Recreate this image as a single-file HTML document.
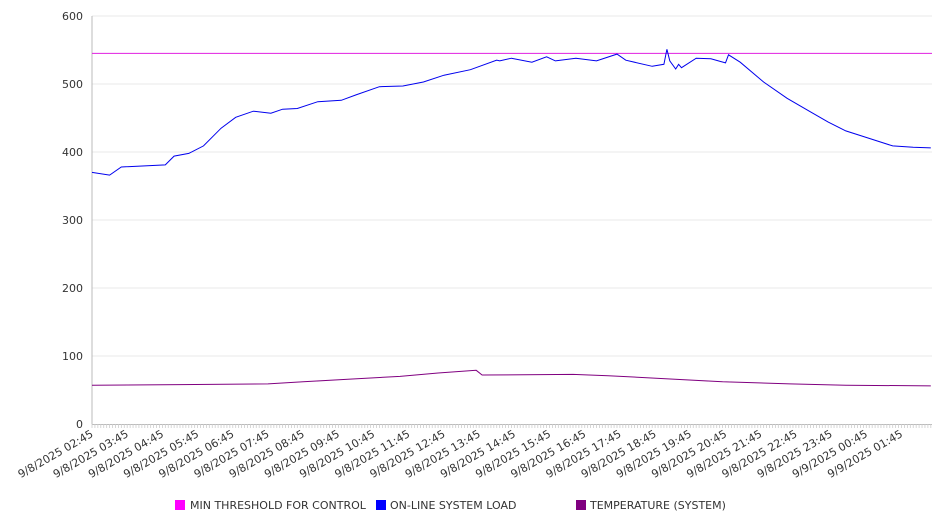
<!DOCTYPE html>
<html><head><meta charset="utf-8"><style>
body{margin:0;background:#fff;}
svg{display:block;font-family:"DejaVu Sans","Liberation Sans",sans-serif;}
</style></head><body>
<svg id="chart" width="946" height="526" viewBox="0 0 946 526" xmlns="http://www.w3.org/2000/svg">
<g id="grid"></g>
<g id="yaxis"></g>
<g id="xaxis"></g>
<g id="series"></g>
<g id="legend">
<g><rect x="175" y="500" width="10" height="10" fill="#ff00ff"/><text x="190" y="509" font-size="11" fill="#333">MIN THRESHOLD FOR CONTROL</text></g>
<g><rect x="376" y="500" width="10" height="10" fill="#0000ff"/><text x="390" y="509" font-size="11" fill="#333">ON-LINE SYSTEM LOAD</text></g>
<g><rect x="576" y="500" width="10" height="10" fill="#800080"/><text x="590" y="509" font-size="11" fill="#333">TEMPERATURE (SYSTEM)</text></g>
</g>
</svg>
<script>
const yTicks=[0,100,200,300,400,500,600];
const xLabels=["9/8/2025 02:45","9/8/2025 03:45","9/8/2025 04:45","9/8/2025 05:45","9/8/2025 06:45","9/8/2025 07:45","9/8/2025 08:45","9/8/2025 09:45","9/8/2025 10:45","9/8/2025 11:45","9/8/2025 12:45","9/8/2025 13:45","9/8/2025 14:45","9/8/2025 15:45","9/8/2025 16:45","9/8/2025 17:45","9/8/2025 18:45","9/8/2025 19:45","9/8/2025 20:45","9/8/2025 21:45","9/8/2025 22:45","9/8/2025 23:45","9/9/2025 00:45","9/9/2025 01:45"];
const loadMinutes=[0,30,50,125,140,165,190,220,245,275,305,325,350,385,425,450,490,530,565,600,645,690,695,715,750,775,790,825,860,895,910,955,975,980,985,995,1000,1005,1030,1055,1080,1085,1105,1145,1185,1225,1255,1285,1325,1365,1400,1430];
const loadValues=[370,366,378,381,394,398,409,435,451,460,457,463,464,474,476,484,496,497,503,513,521,535,534,538,532,540,534,538,534,544,535,526,529,551,534,522,529,524,538,537,531,543,532,503,479,459,444,431,420,409,407,406];
const tempMinutes=[0,150,300,360,440,525,590,655,665,820,880,990,1075,1190,1285,1430];
const tempValues=[57,58,59,62,66,70,75,79,72,73,71,66,62,59,57,56];
const thresholdValue=545;
const totalMinutes=1432;

const X0=92,X1=932,Y0=424,Y1=16;
const NS="http://www.w3.org/2000/svg";
function xs(m){return X0+(m/totalMinutes)*(X1-X0);}
function ys(v){return Y0-(v/600)*(Y0-Y1);}
function mk(t,a,p){const e=document.createElementNS(NS,t);for(const k in a)e.setAttribute(k,a[k]);p.appendChild(e);return e;}
const grid=document.getElementById('grid'),yax=document.getElementById('yaxis'),xax=document.getElementById('xaxis'),ser=document.getElementById('series');
yTicks.forEach(v=>{
  if(v>0){const g=mk('line',{x1:X0,x2:X1,y1:ys(v),y2:ys(v),stroke:'#e8e8e8','stroke-width':1},grid);
  
  }
  const t=mk('text',{x:83,y:ys(v)+4,'text-anchor':'end','font-size':11,fill:'#333'},yax);
  t.textContent=v;
  
  
});
mk('line',{x1:X0,x2:X0,y1:Y1,y2:Y0,stroke:'#bbb'},yax);
mk('line',{x1:X0,x2:X1,y1:Y0+0.5,y2:Y0+0.5,stroke:'#bbb'},xax);
for(let m=0;m<=totalMinutes;m+=5){mk('line',{x1:xs(m),x2:xs(m),y1:Y0,y2:Y0+4,stroke:'#ccc','stroke-width':0.8},xax);}
xLabels.forEach((l,i)=>{
  const x=xs(i*60)+2,y=Y0+12;
  const t=mk('text',{x:x,y:y,'text-anchor':'end','font-size':11,fill:'#333',transform:`rotate(-30 ${x} ${y})`},xax);
  t.textContent=l;
  
  
});
function line(ms,vs,color,name){
  const d=ms.map((m,i)=>(i?'L':'M')+xs(m).toFixed(1)+' '+ys(vs[i]).toFixed(1)).join(' ');
  const p=mk('path',{d:d,fill:'none',stroke:color,'stroke-width':1},ser);
  
  
}
line([0,totalMinutes],[thresholdValue,thresholdValue],'#e020e0','threshold-line');
line(loadMinutes,loadValues,'#0000ee','load-line');
line(tempMinutes,tempValues,'#800080','temperature-line');
</script>
</body></html>
